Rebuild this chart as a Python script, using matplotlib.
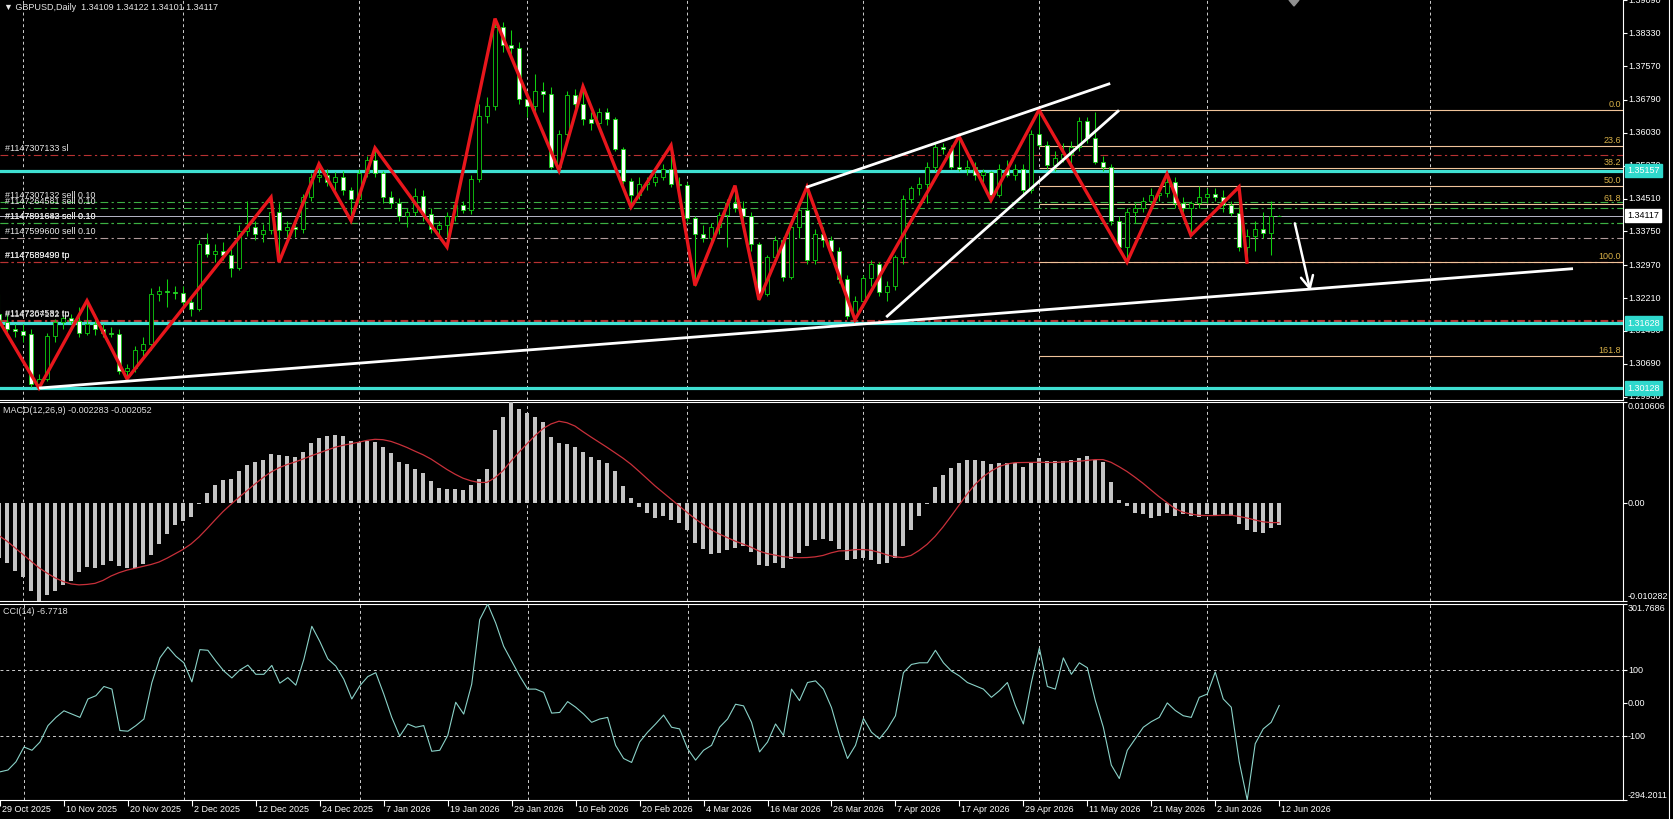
import numpy as np
import matplotlib
matplotlib.use("Agg")
import matplotlib.pyplot as plt
from matplotlib.lines import Line2D
from matplotlib.patches import Polygon

plt.rcParams['font.family'] = ['Liberation Sans', 'DejaVu Sans']

# ---------------- data ----------------
opens = [1.3185, 1.3165, 1.3150, 1.3145, 1.3138, 1.3022, 1.3035, 1.3134, 1.3165, 1.3174,
         1.3168, 1.3140, 1.3160, 1.3150, 1.3140, 1.3138, 1.3053, 1.3060, 1.3100, 1.3115,
         1.3230, 1.3238, 1.3235, 1.3232, 1.3212, 1.3195, 1.3345, 1.3322, 1.3330, 1.3320,
         1.3290, 1.3377, 1.3385, 1.3370, 1.3378, 1.3420, 1.3378, 1.3385, 1.3380, 1.3454,
         1.3500, 1.3505, 1.3490, 1.3500, 1.3470, 1.3450, 1.3510, 1.3540, 1.3510, 1.3455,
         1.3440, 1.3410, 1.3420, 1.3458, 1.3415, 1.3380, 1.3390, 1.3410, 1.3435, 1.3425,
         1.3496, 1.3643, 1.3665, 1.3848, 1.3805, 1.3800, 1.3682, 1.3665, 1.3700, 1.3693,
         1.3525, 1.3600, 1.3690, 1.3670, 1.3635, 1.3625, 1.3650, 1.3635, 1.3565, 1.3492,
         1.3460, 1.3485, 1.3490, 1.3502, 1.3520, 1.3485, 1.3482, 1.3405, 1.3370, 1.3360,
         1.3385, 1.3412, 1.3440, 1.3430, 1.3410, 1.3345, 1.3230, 1.3315, 1.3355, 1.3270,
         1.3385, 1.3425, 1.3310, 1.3370, 1.3355, 1.3330, 1.3265, 1.3180, 1.3215, 1.3268,
         1.3300, 1.3235, 1.3250, 1.3315, 1.3450, 1.3475, 1.3485, 1.3525, 1.3570, 1.3565,
         1.3525, 1.3520, 1.3525, 1.3505, 1.3512, 1.3460, 1.3520, 1.3505, 1.3520, 1.3470,
         1.3600, 1.3574, 1.3528, 1.3545, 1.3555, 1.3570, 1.3630, 1.3590, 1.3536, 1.3525,
         1.3400, 1.3340, 1.3420, 1.3430, 1.3445, 1.3460, 1.3465, 1.3490, 1.3440, 1.3430,
         1.3440, 1.3455, 1.3462, 1.3455, 1.3435, 1.3418, 1.3338, 1.3365, 1.3380, 1.3372,
         1.34109]
highs = [1.3230, 1.3185, 1.3160, 1.3160, 1.3150, 1.3046, 1.3140, 1.3172, 1.3180, 1.3185,
         1.3200, 1.3215, 1.3185, 1.3160, 1.3155, 1.3150, 1.3068, 1.3110, 1.3130, 1.3245,
         1.3250, 1.3265, 1.3248, 1.3250, 1.3225, 1.3355, 1.3372, 1.3345, 1.3350, 1.3335,
         1.3390, 1.3445, 1.3400, 1.3392, 1.3454, 1.3440, 1.3400, 1.3395, 1.3462, 1.3510,
         1.3531, 1.3520, 1.3512, 1.3515, 1.3478, 1.3520, 1.3550, 1.3568, 1.3515, 1.3468,
         1.3452, 1.3430, 1.3475, 1.3470, 1.3430, 1.3400, 1.3420, 1.3445, 1.3445, 1.3505,
         1.3670, 1.3685, 1.3867, 1.3860, 1.3840, 1.3812, 1.3700, 1.3740, 1.3720, 1.3710,
         1.3610, 1.3700, 1.3705, 1.3710, 1.3650, 1.3660, 1.3660, 1.3640, 1.3570, 1.3498,
         1.3500, 1.3500, 1.3510, 1.3530, 1.3574, 1.3500, 1.3490, 1.3410, 1.3390, 1.3395,
         1.3420, 1.3450, 1.3481, 1.3445, 1.3420, 1.3350, 1.3320, 1.3365, 1.3362, 1.3400,
         1.3432, 1.3478, 1.3380, 1.3385, 1.3365, 1.3340, 1.3275, 1.3225, 1.3275, 1.3310,
         1.3305, 1.3260, 1.3320, 1.3460, 1.3480, 1.3500, 1.3535, 1.3580, 1.3580, 1.3575,
         1.3595, 1.3540, 1.3535, 1.3520, 1.3515, 1.3530, 1.3540, 1.3530, 1.3530, 1.3610,
         1.3656, 1.3585, 1.3560, 1.3580, 1.3585, 1.3640, 1.3640, 1.3650, 1.3550, 1.3530,
         1.3410, 1.3430, 1.3440, 1.3455, 1.3475, 1.3480, 1.3508, 1.3500, 1.3455, 1.3445,
         1.3480, 1.3475, 1.3475, 1.3470, 1.3445, 1.3478, 1.3380, 1.3400, 1.3420, 1.3445,
         1.34122]
lows = [1.3155, 1.3140, 1.3130, 1.3120, 1.3015, 1.3013, 1.3030, 1.3120, 1.3150, 1.3160,
        1.3130, 1.3135, 1.3135, 1.3130, 1.3130, 1.3045, 1.3034, 1.3050, 1.3085, 1.3100,
        1.3215, 1.3200, 1.3220, 1.3205, 1.3180, 1.3190, 1.3315, 1.3305, 1.3310, 1.3270,
        1.3285, 1.3365, 1.3355, 1.3350, 1.3370, 1.3304, 1.3360, 1.3362, 1.3372, 1.3445,
        1.3490, 1.3480, 1.3470, 1.3460, 1.3400, 1.3440, 1.3500, 1.3500, 1.3440, 1.3430,
        1.3400, 1.3385, 1.3410, 1.3400, 1.3372, 1.3365, 1.3339, 1.3400, 1.3418, 1.3415,
        1.3490, 1.3625, 1.3655, 1.3790, 1.3785, 1.3670, 1.3640, 1.3650, 1.3650, 1.3520,
        1.3516, 1.3590, 1.3660, 1.3620, 1.3610, 1.3615, 1.3620, 1.3560, 1.3485, 1.3431,
        1.3450, 1.3470, 1.3480, 1.3495, 1.3478, 1.3470, 1.3400, 1.3250, 1.3350, 1.3345,
        1.3370, 1.3340, 1.3420, 1.3400, 1.3330, 1.3217, 1.3225, 1.3300, 1.3260, 1.3265,
        1.3360, 1.3300, 1.3300, 1.3340, 1.3320, 1.3255, 1.3172, 1.3171, 1.3200, 1.3250,
        1.3225, 1.3215, 1.3240, 1.3300, 1.3440, 1.3460, 1.3440, 1.3515, 1.3555, 1.3520,
        1.3515, 1.3505, 1.3495, 1.3490, 1.3447, 1.3455, 1.3500, 1.3495, 1.3460, 1.3465,
        1.3570, 1.3520, 1.3515, 1.3535, 1.3530, 1.3560, 1.3580, 1.3530, 1.3515, 1.3390,
        1.3335, 1.3304, 1.3395, 1.3420, 1.3430, 1.3445, 1.3455, 1.3430, 1.3420, 1.3366,
        1.3430, 1.3440, 1.3445, 1.3420, 1.3410, 1.3330, 1.3304, 1.3330, 1.3360, 1.3320,
        1.34101]
closes = [1.3165, 1.3150, 1.3145, 1.3135, 1.3022, 1.3035, 1.3134, 1.3165, 1.3174, 1.3168,
          1.3140, 1.3160, 1.3150, 1.3140, 1.3138, 1.3053, 1.3060, 1.3100, 1.3115, 1.3230,
          1.3238, 1.3235, 1.3232, 1.3212, 1.3195, 1.3345, 1.3322, 1.3330, 1.3320, 1.3290,
          1.3377, 1.3385, 1.3370, 1.3378, 1.3420, 1.3378, 1.3385, 1.3380, 1.3454, 1.3500,
          1.3505, 1.3490, 1.3500, 1.3470, 1.3450, 1.3510, 1.3540, 1.3510, 1.3455, 1.3440,
          1.3410, 1.3420, 1.3458, 1.3415, 1.3380, 1.3390, 1.3410, 1.3435, 1.3425, 1.3496,
          1.3643, 1.3665, 1.3848, 1.3805, 1.3800, 1.3682, 1.3665, 1.3700, 1.3693, 1.3525,
          1.3600, 1.3690, 1.3670, 1.3635, 1.3625, 1.3650, 1.3635, 1.3565, 1.3492, 1.3460,
          1.3485, 1.3490, 1.3502, 1.3520, 1.3485, 1.3482, 1.3405, 1.3370, 1.3360, 1.3385,
          1.3412, 1.3440, 1.3430, 1.3410, 1.3345, 1.3230, 1.3315, 1.3355, 1.3270, 1.3385,
          1.3425, 1.3310, 1.3370, 1.3355, 1.3330, 1.3265, 1.3180, 1.3215, 1.3268, 1.3300,
          1.3235, 1.3250, 1.3315, 1.3450, 1.3475, 1.3485, 1.3525, 1.3570, 1.3565, 1.3525,
          1.3520, 1.3525, 1.3505, 1.3512, 1.3460, 1.3520, 1.3505, 1.3520, 1.3470, 1.3600,
          1.3574, 1.3528, 1.3545, 1.3555, 1.3570, 1.3630, 1.3590, 1.3536, 1.3525, 1.3400,
          1.3340, 1.3420, 1.3430, 1.3445, 1.3460, 1.3465, 1.3490, 1.3440, 1.3430, 1.3440,
          1.3455, 1.3462, 1.3455, 1.3435, 1.3418, 1.3338, 1.3365, 1.3380, 1.3372, 1.3411,
          1.34117]

macd = [-0.00580, -0.00632, -0.00714, -0.00781, -0.00922, -0.01028, -0.00967, -0.00919, -0.00863, -0.00815,
        -0.00722, -0.00670, -0.00677, -0.00647, -0.00610, -0.00658, -0.00677, -0.00677, -0.00640, -0.00547,
        -0.00435, -0.00324, -0.00231, -0.00193, -0.00149, -0.00010, 0.00104, 0.00186, 0.00245, 0.00253,
        0.00335, 0.00402, 0.00431, 0.00457, 0.00513, 0.00506, 0.00495, 0.00484, 0.00539, 0.00632,
        0.00681, 0.00699, 0.00718, 0.00699, 0.00655, 0.00643, 0.00655, 0.00643, 0.00588, 0.00521,
        0.00431, 0.00409, 0.00353, 0.00320, 0.00234, 0.00160, 0.00149, 0.00149, 0.00141, 0.00186,
        0.00253, 0.00357, 0.00762, 0.00904, 0.010606, 0.00989, 0.00948, 0.00904, 0.00848, 0.00692,
        0.00625, 0.00617, 0.00588, 0.00532, 0.00484, 0.00457, 0.00420, 0.00335, 0.00179, 0.00048,
        -0.00045, -0.00100, -0.00156, -0.00138, -0.00175, -0.00212, -0.00280, -0.00417, -0.00484, -0.00536,
        -0.00521, -0.00491, -0.00472, -0.00454, -0.00510, -0.00647, -0.00658, -0.00632, -0.00684, -0.00584,
        -0.00528, -0.00454, -0.00387, -0.00379, -0.00398, -0.00484, -0.00602, -0.00584, -0.00573, -0.00602,
        -0.00640, -0.00632, -0.00573, -0.00454, -0.00286, -0.00138, -0.00005, 0.00171, 0.00298, 0.00372,
        0.00420, 0.00457, 0.00457, 0.00439, 0.00409, 0.00420, 0.00420, 0.00420, 0.00383, 0.00431,
        0.00469, 0.00446, 0.00439, 0.00439, 0.00450, 0.00476, 0.00495, 0.00457, 0.00431, 0.00223,
        0.00030, -0.00026, -0.00100, -0.00119, -0.00156, -0.00138, -0.00100, -0.00138, -0.00119, -0.00138,
        -0.00149, -0.00119, -0.00126, -0.00119, -0.00138, -0.00223, -0.00286, -0.00305, -0.00312, -0.00265,
        -0.002283]
macd_signal = [-0.00342, -0.00400, -0.00470, -0.00540, -0.00610, -0.00680, -0.00735, -0.00785, -0.00823, -0.00849,
               -0.00859, -0.00854, -0.00843, -0.00812, -0.00766, -0.00731, -0.00704, -0.00684, -0.00664, -0.00645,
               -0.00619, -0.00579, -0.00533, -0.00487, -0.00430, -0.00356, -0.00269, -0.00178, -0.00090, -0.00013,
               0.00060, 0.00130, 0.00200, 0.00267, 0.00325, 0.00370, 0.00404, 0.00431, 0.00462, 0.00495,
               0.00526, 0.00556, 0.00585, 0.00606, 0.00622, 0.00639, 0.00658, 0.00669, 0.00665, 0.00647,
               0.00617, 0.00583, 0.00544, 0.00507, 0.00462, 0.00407, 0.00352, 0.00303, 0.00261, 0.00233,
               0.00216, 0.00217, 0.00266, 0.00340, 0.00440, 0.00534, 0.00622, 0.00707, 0.00781, 0.00830,
               0.00859, 0.00843, 0.00808, 0.00749, 0.00693, 0.00639, 0.00585, 0.00528, 0.00471, 0.00407,
               0.00333, 0.00257, 0.00180, 0.00111, 0.00041, -0.00029, -0.00098, -0.00164, -0.00223, -0.00278,
               -0.00324, -0.00362, -0.00399, -0.00430, -0.00463, -0.00504, -0.00530, -0.00547, -0.00563, -0.00570,
               -0.00574, -0.00572, -0.00565, -0.00550, -0.00523, -0.00503, -0.00500, -0.00489, -0.00488, -0.00496,
               -0.00517, -0.00544, -0.00565, -0.00572, -0.00550, -0.00498, -0.00434, -0.00351, -0.00251, -0.00139,
               -0.00022, 0.00093, 0.00194, 0.00275, 0.00335, 0.00383, 0.00410, 0.00424, 0.00425, 0.00426,
               0.00428, 0.00426, 0.00426, 0.00430, 0.00433, 0.00439, 0.00448, 0.00456, 0.00456, 0.00428,
               0.00382, 0.00331, 0.00271, 0.00207, 0.00137, 0.00067, 0.00005, -0.00058, -0.00096, -0.00115,
               -0.00129, -0.00131, -0.00131, -0.00127, -0.00127, -0.00141, -0.00157, -0.00178, -0.00197, -0.00205,
               -0.002052]
cci = [-208.6, -203.0, -178.0, -133.0, -143.0, -118.0, -68.0, -43.0, -23.0, -33.0,
       -43.0, 13.0, 23.0, 51.0, 43.0, -83.0, -85.0, -68.0, -48.0, 63.0,
       138.0, 171.0, 143.0, 123.0, 65.0, 163.0, 161.0, 128.0, 98.0, 77.0,
       101.0, 116.0, 88.0, 88.0, 115.0, 61.0, 78.0, 55.0, 133.0, 234.0,
       188.0, 135.0, 113.0, 73.0, 13.0, 53.0, 81.0, 93.0, 28.0, -43.0,
       -100.0, -63.0, -73.0, -68.0, -146.0, -143.0, -98.0, 3.0, -33.0, 58.0,
       254.0, 301.7686, 244.0, 173.0, 128.0, 83.0, 43.0, 43.0, 33.0, -30.0,
       -28.0, 5.0, -12.0, -33.0, -58.0, -48.0, -43.0, -128.0, -168.0, -180.0,
       -118.0, -88.0, -63.0, -36.0, -73.0, -78.0, -138.0, -173.0, -143.0, -128.0,
       -73.0, -48.0, -3.0, -8.0, -58.0, -148.0, -118.0, -63.0, -98.0, 43.0,
       8.0, 63.0, 68.0, 43.0, -13.0, -98.0, -168.0, -128.0, -46.0, -88.0,
       -108.0, -78.0, -38.0, 93.0, 118.0, 123.0, 123.0, 161.0, 123.0, 98.0,
       83.0, 63.0, 53.0, 43.0, 18.0, 38.0, 63.0, -7.0, -63.0, 63.0,
       168.0, 51.0, 43.0, 138.0, 88.0, 123.0, 108.0, 8.0, -73.0, -188.0,
       -229.0, -143.0, -108.0, -73.0, -56.0, -43.0, 1.0, -22.0, -38.0, -43.0,
       18.0, 28.0, 95.0, 13.0, -12.0, -178.0, -294.2011, -123.0, -78.0, -58.0,
       -6.7718]

# zigzag pivots (bar index, price)
zz_bars = [0, 5, 11, 16, 34, 35, 40, 44, 47, 56, 62, 70, 73, 79, 84, 87, 92, 95,
           101, 107, 120, 124, 130, 141, 146, 149, 155, 156]
zz_prices = [1.3169, 1.3013, 1.3215, 1.3034, 1.3454, 1.3304, 1.3531, 1.3400, 1.3568,
             1.3339, 1.3867, 1.3516, 1.3710, 1.3431, 1.3574, 1.3250, 1.3481, 1.3217,
             1.3478, 1.3171, 1.3595, 1.3447, 1.3656, 1.3304, 1.3508, 1.3366, 1.3478, 1.3304]

# hand-drawn trend lines: (bar0, price0, bar1, price1)
trend_lines = [(5.0, 1.3013, 196.75, 1.3289),
               (100.9, 1.3477, 138.9, 1.3717),
               (110.9, 1.3177, 140.0, 1.3655)]
arrow_line = (161.9, 1.3400, 164.0, 1.3231)

cyan_levels = [1.35157, 1.31628, 1.30128]
cyan_labels = ["1.35157", "1.31628", "1.30128"]

order_prices = [1.3551, 1.3443, 1.3430, 1.3395, 1.3394, 1.3361, 1.3305, 1.3304, 1.3170, 1.3169]
order_labels = ["#1147307133 sl", "#1147307132 sell 0.10", "#1147264581 sell 0.10",
                "#1147591643 sell 0.10", "#1147891682 sell 0.10", "#1147599600 sell 0.10",
                "#1147689499 tp", "#1147589490 tp", "#1147264581 tp", "#1147307132 tp"]
order_kinds = ["sl", "sell", "sell", "sell", "sell", "sell2", "tp", "tp", "tp", "tp"]

fib_high, fib_low, fib_start = 1.3656, 1.3304, 130
fib_levels = [0.0, 23.6, 38.2, 50.0, 61.8, 100.0, 161.8]
fib_texts = ["0.0", "23.6", "38.2", "50.0", "61.8", "100.0", "161.8"]

bid_price = 1.34117
price_ticks = [1.39090, 1.38330, 1.37570, 1.36790, 1.36030, 1.35270, 1.34510,
               1.33750, 1.32970, 1.32210, 1.31450, 1.30690, 1.29930]
price_tick_labels = ["1.39090", "1.38330", "1.37570", "1.36790", "1.36030", "1.35270", "1.34510",
                     "1.33750", "1.32970", "1.32210", "1.31450", "1.30690", "1.29930"]
date_labels = ["29 Oct 2025", "10 Nov 2025", "20 Nov 2025", "2 Dec 2025", "12 Dec 2025",
               "24 Dec 2025", "7 Jan 2026", "19 Jan 2026", "29 Jan 2026", "10 Feb 2026",
               "20 Feb 2026", "4 Mar 2026", "16 Mar 2026", "26 Mar 2026", "7 Apr 2026",
               "17 Apr 2026", "29 Apr 2026", "11 May 2026", "21 May 2026", "2 Jun 2026",
               "12 Jun 2026"]
month_grid_bars = [3, 23, 45, 66, 86, 108, 130, 151, 178.9]

title_text = "\u25bc GBPUSD,Daily  1.34109 1.34122 1.34101 1.34117"
macd_text = "MACD(12,26,9) -0.002283 -0.002052"
cci_text = "CCI(14) -6.7718"

# ---------------- layout ----------------
W, H = 1673, 819
PR = 1623
FS = 6.5
fig = plt.figure(figsize=(W / 100, H / 100), dpi=100, facecolor='black')


def rect(top, bot):
    return [0, 1 - bot / H, PR / W, (bot - top) / H]


ax = fig.add_axes(rect(0, 400))
axm = fig.add_axes(rect(402, 601))
axc = fig.add_axes(rect(604, 800))
for a in (ax, axm, axc):
    a.set_facecolor('black')
    a.set_xlim(0.125, 203.0)
    a.spines['left'].set_visible(False)
    for s in ('right', 'bottom', 'top'):
        a.spines[s].set_color('white')
        a.spines[s].set_linewidth(0.8)
    a.tick_params(axis='x', bottom=False, labelbottom=False)
    a.tick_params(axis='y', left=False, labelleft=False, right=True, labelright=False,
                  direction='out', length=3, width=0.8, color='white')
    for g in month_grid_bars:
        a.axvline(g, color='#d0d0d0', lw=0.7, ls=(0, (3, 3)), zorder=1)
ax.spines['top'].set_visible(False)

ax.set_ylim(1.29854, 1.39100)
axm.set_ylim(-0.010282, 0.010606)
axc.set_ylim(-294.2011, 301.7686)

idx = np.arange(len(closes))
o = np.array(opens)
c = np.array(closes)
hi = np.array(highs)
lo = np.array(lows)

# horizontal levels
for p in cyan_levels:
    ax.axhline(p, color='#3fe0d2', lw=2.3, zorder=3)
order_colors = {"sl": '#b83232', "tp": '#b83232', "sell": '#3cb043', "sell2": '#b09a9a'}
for p, k in zip(order_prices, order_kinds):
    ax.axhline(p, color=order_colors[k], lw=0.8, ls=(0, (7, 3, 2, 3)), zorder=2)
ax.axhline(bid_price, color='#b8b8c8', lw=0.7, zorder=2)
for lvl, t in zip(fib_levels, fib_texts):
    fp = fib_high - lvl / 100.0 * (fib_high - fib_low)
    ax.hlines(fp, fib_start, 203.0, color='#f0c49a', lw=0.8, zorder=2)
    ax.annotate(t, xy=(1, fp), xycoords=('axes fraction', 'data'), xytext=(-2, 1),
                textcoords='offset pixels', ha='right', va='bottom', fontsize=FS,
                color='#d8b048', zorder=8)

# candles
ax.vlines(idx, lo, hi, color='#10d010', lw=0.75, zorder=4)
fills = ['black' if cc >= oo else 'white' for oo, cc in zip(o, c)]
ax.bar(idx, np.maximum(np.abs(c - o), 0.00004), bottom=np.minimum(o, c), width=0.55,
       color=fills, edgecolor='#10d010', linewidth=0.6, zorder=5)

# zigzag and trend lines
ax.plot(zz_bars, zz_prices, color='#e8161c', lw=2.4, zorder=6, solid_joinstyle='miter')
for x0, y0, x1, y1 in trend_lines:
    ax.plot([x0, x1], [y0, y1], color='white', lw=2.0, zorder=7, solid_capstyle='butt')
ax.annotate('', xy=(arrow_line[2], arrow_line[3]), xytext=(arrow_line[0], arrow_line[1]),
            arrowprops=dict(arrowstyle='->', color='white', lw=1.8, mutation_scale=22),
            zorder=7)

# order labels
for p, t in zip(order_prices, order_labels):
    ax.annotate(t, xy=(0, p), xycoords=('axes fraction', 'data'), xytext=(5, 2),
                textcoords='offset pixels', ha='left', va='bottom', fontsize=FS,
                color='#e6e6e6', zorder=8)

# right price scale
ax.set_yticks(price_ticks)
for p, t in zip(price_ticks, price_tick_labels):
    ax.annotate(t, xy=(1, p), xycoords=('axes fraction', 'data'), xytext=(5, 0),
                textcoords='offset pixels', ha='left', va='center', fontsize=FS,
                color='white', annotation_clip=False, zorder=8)
for p, t in zip(cyan_levels, cyan_labels):
    ax.annotate(t, xy=(1, p), xycoords=('axes fraction', 'data'), xytext=(4, 0),
                textcoords='offset pixels', ha='left', va='center', fontsize=FS,
                color='white', annotation_clip=False, zorder=9,
                bbox=dict(boxstyle='square,pad=0.25', fc='#2fd8cc', ec='#2fd8cc'))
ax.annotate("1.34117", xy=(1, bid_price), xycoords=('axes fraction', 'data'), xytext=(4, 0),
            textcoords='offset pixels', ha='left', va='center', fontsize=FS,
            color='black', annotation_clip=False, zorder=9,
            bbox=dict(boxstyle='square,pad=0.25', fc='white', ec='white'))

# MACD
axm.bar(idx, macd, width=0.42, color='#c4c4c4', zorder=3)
axm.plot(idx, macd_signal, color='#c8303a', lw=0.9, zorder=4)
macd_ticks = [0.010606, 0.0, -0.010282]
macd_tick_labels = ["0.010606", "0.00", "-0.010282"]
axm.set_yticks(macd_ticks)
for v, t, va in zip(macd_ticks, macd_tick_labels, ['top', 'center', 'bottom']):
    axm.annotate(t, xy=(1, v), xycoords=('axes fraction', 'data'), xytext=(5, 0),
                 textcoords='offset pixels', ha='left', va=va, fontsize=FS, color='white',
                 annotation_clip=False)
axm.text(3 / PR, 0.955, macd_text, transform=axm.transAxes, fontsize=FS, color='#e0e0e0',
         va='center', ha='left')

# CCI
axc.plot(idx, cci, color='#8ad2c8', lw=0.8, zorder=3)
for lv in (100, -100):
    axc.axhline(lv, color='#d0d0d0', lw=0.7, ls=(0, (3, 3)), zorder=1)
cci_ticks = [301.7686, 100, 0, -100, -294.2011]
cci_tick_labels = ["301.7686", "100", "0.00", "-100", "-294.2011"]
axc.set_yticks(cci_ticks)
for v, t, va in zip(cci_ticks, cci_tick_labels, ['top', 'center', 'center', 'center', 'bottom']):
    axc.annotate(t, xy=(1, v), xycoords=('axes fraction', 'data'), xytext=(5, 0),
                 textcoords='offset pixels', ha='left', va=va, fontsize=FS, color='white',
                 annotation_clip=False)
axc.text(3 / PR, 0.96, cci_text, transform=axc.transAxes, fontsize=FS, color='#e0e0e0',
         va='center', ha='left')

# date axis
date_pos = [8 * k for k in range(len(date_labels))]
axc.set_xticks(date_pos)
axc.tick_params(axis='x', bottom=True, direction='out', length=4, width=0.8, color='white')
for xpos, t in zip(date_pos, date_labels):
    axc.annotate(t, xy=(xpos, 0), xycoords=('data', 'axes fraction'), xytext=(2, -5),
                 textcoords='offset pixels', ha='left', va='top', fontsize=FS, color='white',
                 annotation_clip=False)

# title
fig.text(4 / W, 1 - 8 / H, title_text, fontsize=FS, color='#e8e8e8', va='center', ha='left')
# chart-shift marker at the top of the price window
fig.add_artist(Polygon([[1289 / W, 1.0], [1299 / W, 1.0], [1294 / W, 1 - 6 / H]],
                       closed=True, transform=fig.transFigure, fc='#909090', ec='#909090'))
# window right border
fig.add_artist(Line2D([1669 / W, 1669 / W], [0, 1], color='white', lw=0.8))

fig.savefig('out.png', dpi=100, facecolor='black')
